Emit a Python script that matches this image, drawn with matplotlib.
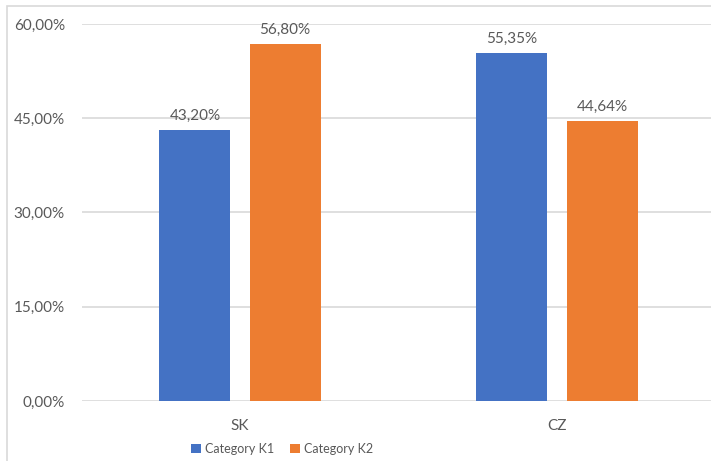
import matplotlib.pyplot as plt
import numpy as np
from matplotlib.patches import Rectangle
from matplotlib.ticker import FuncFormatter

# data
kategorie = ["SK", "CZ"]
serie = ["Category K1", "Category K2"]
k1 = [43.20, 55.35]
k2 = [56.80, 44.64]
osa_y = [0, 15, 30, 45, 60]

modra = "#4472C4"
oranzova = "#ED7D31"
seda_text = "#595959"
plt.rcParams['font.family'] = ['Lato', 'DejaVu Sans']

W, H = 711, 461
fig = plt.figure(figsize=(W / 100, H / 100), dpi=100)
ax = fig.add_axes([81.5 / W, 1 - 401 / H, 634 / W, 377 / H])

# ramecek okolo grafu
fig.patches.append(Rectangle((6.5 / W, -0.1), 1.2, 1 - 6.5 / H + 0.1,
                             transform=fig.transFigure, fill=False,
                             edgecolor="#D9D9D9", linewidth=1.2))

x = np.arange(len(kategorie))
sirka = 0.224
posun = 0.142
b1 = ax.bar(x - posun, k1, sirka, color=modra, label=serie[0], zorder=3)
b2 = ax.bar(x + posun, k2, sirka, color=oranzova, label=serie[1], zorder=3)

def fmt(v):
    return f"{v:.2f}%".replace(".", ",")

for bars, vals in [(b1, k1), (b2, k2)]:
    for b, v in zip(bars, vals):
        ax.annotate(fmt(v), (b.get_x() + b.get_width() / 2, v),
                    xytext=(0, 5), textcoords="offset points",
                    ha="center", va="bottom", fontsize=11, color=seda_text)

ax.set_xlim(-0.5, 1.5)
ax.set_ylim(0, 60)
ax.set_yticks(osa_y)
ax.yaxis.set_major_formatter(FuncFormatter(lambda v, p: fmt(v)))
ax.set_xticks(x)
ax.set_xticklabels(kategorie)
ax.tick_params(axis="both", length=0, labelsize=11, labelcolor=seda_text)
ax.tick_params(axis="y", pad=12)
ax.tick_params(axis="x", pad=13)
ax.grid(axis="y", color="#D9D9D9", linewidth=1.2, zorder=0)
for s in ax.spines.values():
    s.set_visible(False)

fig.legend(handles=[b1, b2], loc="center", bbox_to_anchor=(282 / W, 1 - 449 / H),
           ncol=2, frameon=False, fontsize=9, handlelength=0.8, handleheight=0.8,
           handletextpad=0.3, columnspacing=1.3, labelcolor=seda_text)

fig.savefig("out.png", dpi=100)
